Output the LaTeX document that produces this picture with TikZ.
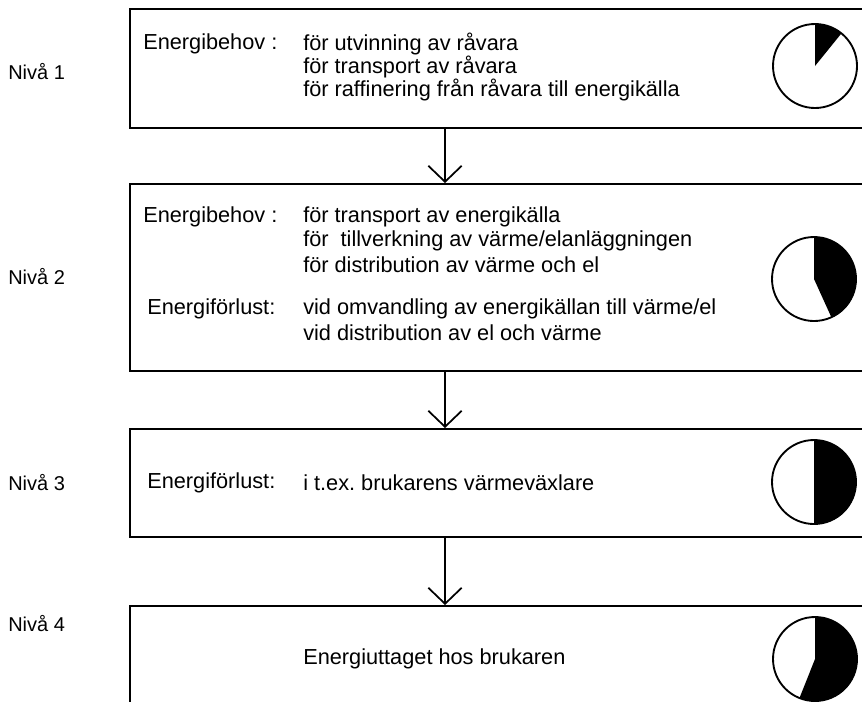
\documentclass[tikz,border=0pt]{standalone}
\usepackage{fontspec}
\setmainfont{Liberation Sans}
\usetikzlibrary{arrows.meta,positioning,calc}

\begin{document}
\begin{tikzpicture}[
  x=0.75pt, y=-0.75pt,
  font=\fontsize{16.3}{19}\selectfont,
  level/.style={
    rectangle, draw=black, line width=1.4pt,
    minimum width=650pt, anchor=north west, inner sep=0pt
  },
  txt/.style={anchor=west, inner sep=0pt},
  nivalabel/.style={txt, font=\fontsize{15}{18}\selectfont},
  pie/.style={draw=black, line width=1.4pt},
  arr/.style={-{Straight Barb[length=12pt,width=25pt,line width=1.3pt]}, line width=1.1pt}
]
\clip (0,0) rectangle (862,701);

% Boxes for the four levels
\node[level, minimum height=89pt] (lvl1) at (129,8) {};
\node[level, minimum height=140pt] (lvl2) at (129,183) {};
\node[level, minimum height=81pt] (lvl3) at (129,428) {};
\node[level, minimum height=120pt] (lvl4) at (129,605) {};

% Arrows between levels
\draw[arr] ([xshift=237pt]lvl1.south west) -- ([xshift=237pt]lvl2.north west);
\draw[arr] ([xshift=237pt]lvl2.south west) -- ([xshift=237pt]lvl3.north west);
\draw[arr] ([xshift=237pt]lvl3.south west) -- ([xshift=237pt]lvl4.north west);

% Level labels
\node[nivalabel] (niva1) at (8,72) {Nivå 1};
\node[nivalabel] (niva2) at (8,277) {Nivå 2};
\node[nivalabel] (niva3) at (8,483) {Nivå 3};
\node[nivalabel] (niva4) at (8,624) {Nivå 4};

% Level 1
\node[txt] (eb1) at (143,44) {Energibehov :};
\node[txt] (eb1a) at (303,44) {för utvinning av råvara};
\node[txt] (eb1b) at (303,67) {för transport av råvara};
\node[txt] (eb1c) at (303,90) {för raffinering från råvara till energikälla};

% Level 2
\node[txt] (eb2) at (143,217) {Energibehov :};
\node[txt] (eb2a) at (303,217) {för transport av energikälla};
\node[txt] (eb2b) at (303,241) {för\ \ tillverkning av värme/elanläggningen};
\node[txt] (eb2c) at (303,265) {för distribution av värme och el};
\node[txt] (ef2) at (147,309) {Energiförlust:};
\node[txt] (ef2a) at (303,309) {vid omvandling av energikällan till värme/el};
\node[txt] (ef2b) at (303,333) {vid distribution av el och värme};

% Level 3
\node[txt] (ef3) at (147,483) {Energiförlust:};
\node[txt] (ef3a) at (303,483) {i t.ex.\ brukarens värmeväxlare};

% Level 4
\node[txt] (uttag) at (303,659) {Energiuttaget hos brukaren};

% Pie charts
\coordinate (pie1) at (815,66);
\coordinate (pie2) at (814,279);
\coordinate (pie3) at (814,482);
\coordinate (pie4) at (815,659);
\fill[black] (pie1) -- ++(-90:42) arc[start angle=-90, end angle=-51, radius=42] -- cycle;
\fill[black] (pie2) -- ++(-90:42) arc[start angle=-90, end angle=65.6, radius=42] -- cycle;
\fill[black] (pie3) -- ++(-90:42) arc[start angle=-90, end angle=90, radius=42] -- cycle;
\fill[black] (pie4) -- ++(-90:42) arc[start angle=-90, end angle=111.7, radius=42] -- cycle;
\draw[pie] (pie1) circle[radius=42];
\draw[pie] (pie2) circle[radius=42];
\draw[pie] (pie3) circle[radius=42];
\draw[pie] (pie4) circle[radius=42];

\end{tikzpicture}
\end{document}
